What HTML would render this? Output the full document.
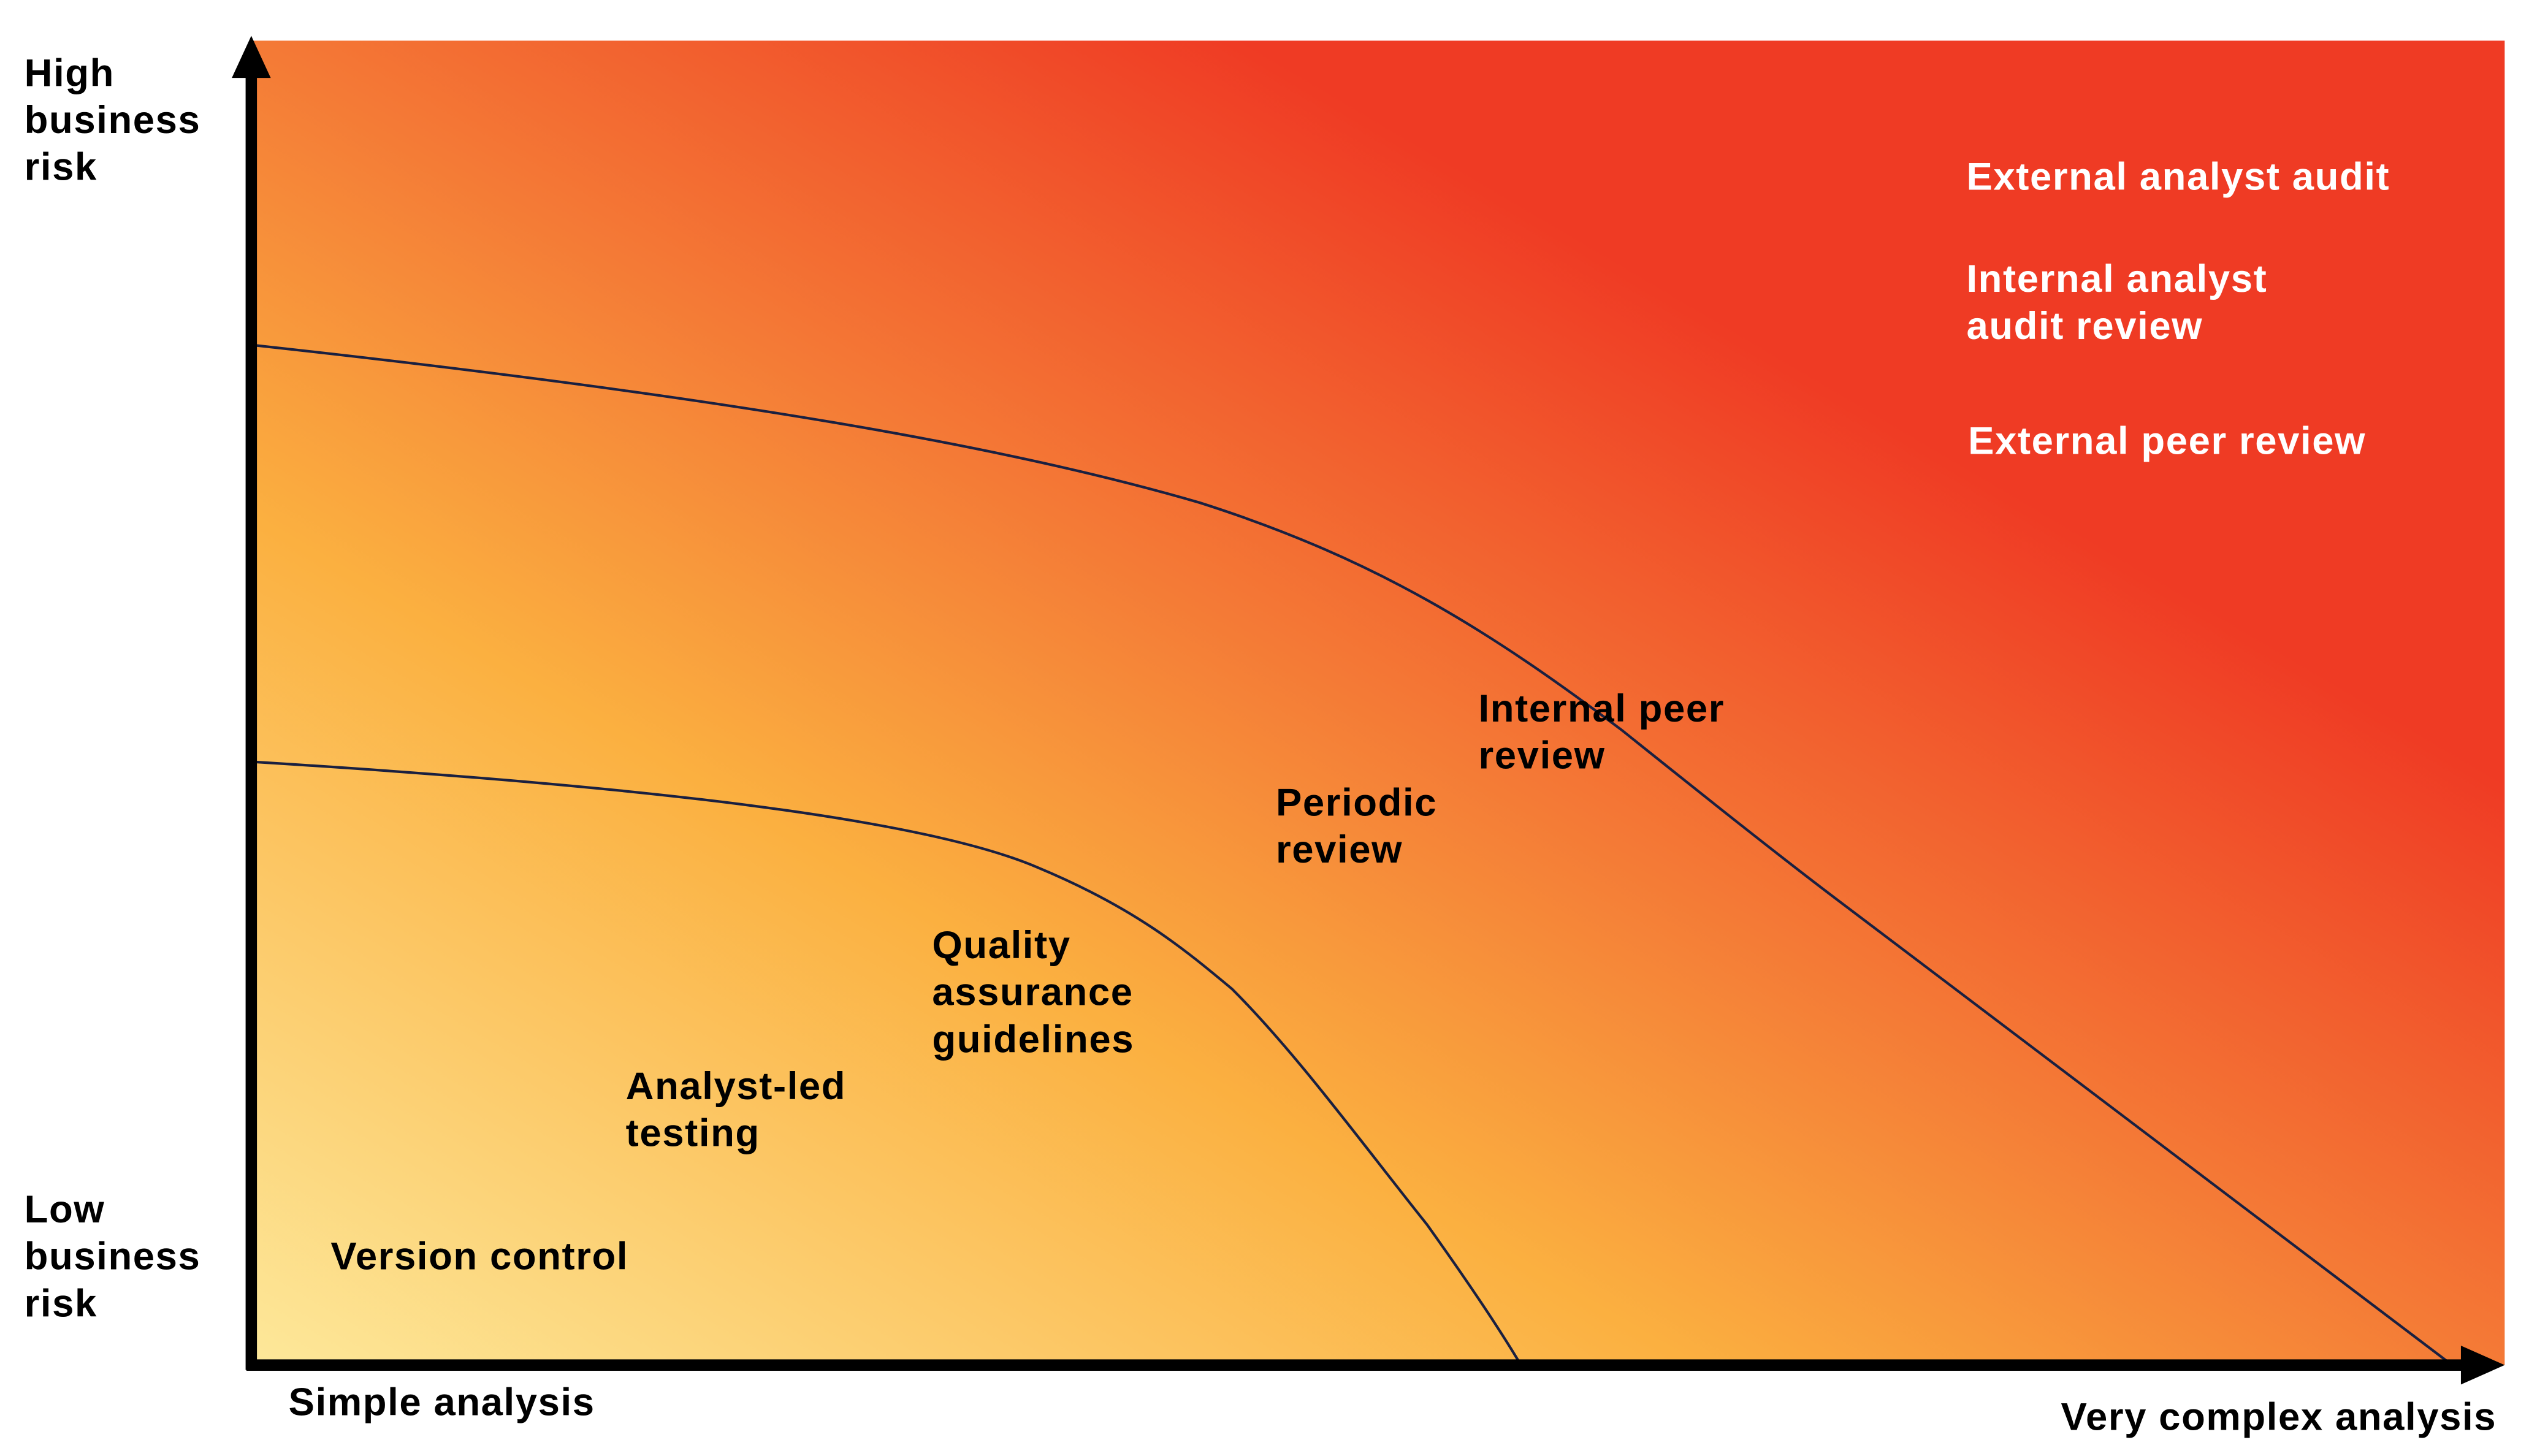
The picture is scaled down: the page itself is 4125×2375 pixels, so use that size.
<!DOCTYPE html>
<html><head><meta charset="utf-8"><style>
html,body{margin:0;padding:0;background:#fff;}
svg{display:block;}
text{font-family:"Liberation Sans",sans-serif;font-weight:bold;font-size:24px;letter-spacing:0.6px;}
</style></head><body>
<svg width="4125" height="2375" viewBox="0 0 1560 898">
<defs>
<linearGradient id="bg" x1="0" y1="1" x2="1" y2="0">
<stop offset="0" stop-color="#fde89a"/>
<stop offset="0.32" stop-color="#fbb040"/>
<stop offset="0.5" stop-color="#f47a36"/>
<stop offset="0.72" stop-color="#ef3b24"/>
<stop offset="1" stop-color="#ef3b24"/>
</linearGradient>
</defs>
<rect x="155" y="25" width="1390" height="817" fill="url(#bg)"/>
<path d="M158,213 C450,245 620,275 740,310 C850,345 920,390 1000,450 C1050,490 1100,530 1140,560 L1510,840" fill="none" stroke="#1a2040" stroke-width="1.6"/>
<path d="M158,470 C400,485 570,505 640,535 C700,560 730,585 760,610 C800,650 840,705 880,755 C905,790 925,820 937,840" fill="none" stroke="#1a2040" stroke-width="1.6"/>
<g>
<line x1="155" y1="845" x2="155" y2="40" stroke="#000" stroke-width="7"/>
<polygon points="143,48 155,22 167,48" fill="#000"/>
</g>
<g>
<line x1="152" y1="842" x2="1525" y2="842" stroke="#000" stroke-width="7"/>
<polygon points="1518,830 1545,842 1518,854" fill="#000"/>
</g>
<text x="15" y="53"><tspan x="15">High</tspan><tspan x="15" dy="29">business</tspan><tspan x="15" dy="29">risk</tspan></text>
<text x="15" y="754"><tspan x="15">Low</tspan><tspan x="15" dy="29">business</tspan><tspan x="15" dy="29">risk</tspan></text>
<text x="178" y="873">Simple analysis</text>
<text x="1540" y="882" text-anchor="end">Very complex analysis</text>
<text x="204" y="783">Version control</text>
<text x="386" y="678"><tspan x="386">Analyst-led</tspan><tspan x="386" dy="29">testing</tspan></text>
<text x="575" y="591"><tspan x="575">Quality</tspan><tspan x="575" dy="29">assurance</tspan><tspan x="575" dy="29">guidelines</tspan></text>
<text x="787" y="503"><tspan x="787">Periodic</tspan><tspan x="787" dy="29">review</tspan></text>
<text x="912" y="445"><tspan x="912">Internal peer</tspan><tspan x="912" dy="29">review</tspan></text>
<g fill="#fff">
<text x="1213" y="117">External analyst audit</text>
<text x="1213" y="180"><tspan x="1213">Internal analyst</tspan><tspan x="1213" dy="29">audit review</tspan></text>
<text x="1214" y="280">External peer review</text>
</g>
</svg>
</body></html>
